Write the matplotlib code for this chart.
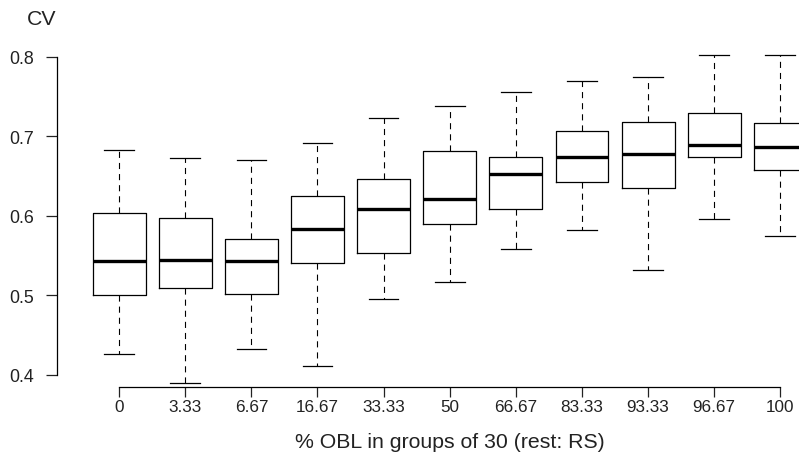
import numpy as np
import matplotlib
matplotlib.use("Agg")
import matplotlib.pyplot as plt

plt.rcParams['font.family'] = ['Liberation Sans', 'DejaVu Sans']

# groups (% OBL in groups of 30) and five-number summaries of CV
groups = ['0', '3.33', '6.67', '16.67', '33.33', '50', '66.67', '83.33', '93.33', '96.67', '100']
lower_whisker = [0.426, 0.389, 0.432, 0.411, 0.495, 0.517, 0.558, 0.582, 0.532, 0.596, 0.574]
q1 = [0.500, 0.509, 0.502, 0.540, 0.553, 0.590, 0.609, 0.643, 0.635, 0.674, 0.658]
median = [0.543, 0.544, 0.543, 0.583, 0.609, 0.621, 0.653, 0.674, 0.677, 0.689, 0.686]
q3 = [0.604, 0.597, 0.571, 0.625, 0.646, 0.681, 0.674, 0.706, 0.718, 0.729, 0.717]
upper_whisker = [0.683, 0.673, 0.670, 0.692, 0.723, 0.738, 0.756, 0.769, 0.774, 0.802, 0.802]

stats = []
for i in range(len(groups)):
    stats.append({'label': groups[i], 'whislo': lower_whisker[i], 'q1': q1[i],
                  'med': median[i], 'q3': q3[i], 'whishi': upper_whisker[i],
                  'fliers': []})

W, H = 799, 456
fig = plt.figure(figsize=(W / 100, H / 100), dpi=100)

# plot region in pixels: left 57, right 799, bottom 388.3, top 40
ax = fig.add_axes([57 / W, (H - 388.3) / H, (W - 57) / W, (388.3 - 40) / H])
ax.set_xlim(0.06, 1 + (W - 119) / 66.13)
ax.set_ylim(0.3841, 0.8223)
ax.patch.set_alpha(0)

ax.bxp(stats, positions=np.arange(1, len(groups) + 1), widths=0.8,
       showfliers=False, patch_artist=False,
       boxprops=dict(color='black', linewidth=0.9),
       medianprops=dict(color='black', linewidth=2.4, solid_capstyle='butt'),
       whiskerprops=dict(color='black', linewidth=0.8, linestyle=(0, (5.5, 4.5))),
       capprops=dict(color='black', linewidth=0.9),
       capwidths=0.45)

for side in ['top', 'right']:
    ax.spines[side].set_visible(False)
ax.spines['left'].set_bounds(0.4, 0.8)
ax.spines['bottom'].set_bounds(1, len(groups))
ax.spines['left'].set_linewidth(0.9)
ax.spines['bottom'].set_linewidth(0.9)

ax.set_yticks([0.4, 0.5, 0.6, 0.7, 0.8])
ax.set_yticklabels(['0.4', '0.5', '0.6', '0.7', '0.8'])
ax.set_xticks(np.arange(1, len(groups) + 1))
ax.set_xticklabels(groups)
ax.tick_params(axis='y', length=7.9, width=0.9, pad=8.4, labelsize=12.8, colors='#222222')
ax.tick_params(axis='x', length=7.2, width=0.9, pad=1.0, labelsize=12.3, colors='#222222')

fig.text(42 / W, 1 - 19.5 / H, 'CV', ha='center', va='center', fontsize=15.3, color='#222222')
fig.text(449.5 / W, (H - 448) / H, '% OBL in groups of 30 (rest: RS)',
         ha='center', va='baseline', fontsize=15.3, color='#222222')

fig.savefig('out.png', dpi=100)
